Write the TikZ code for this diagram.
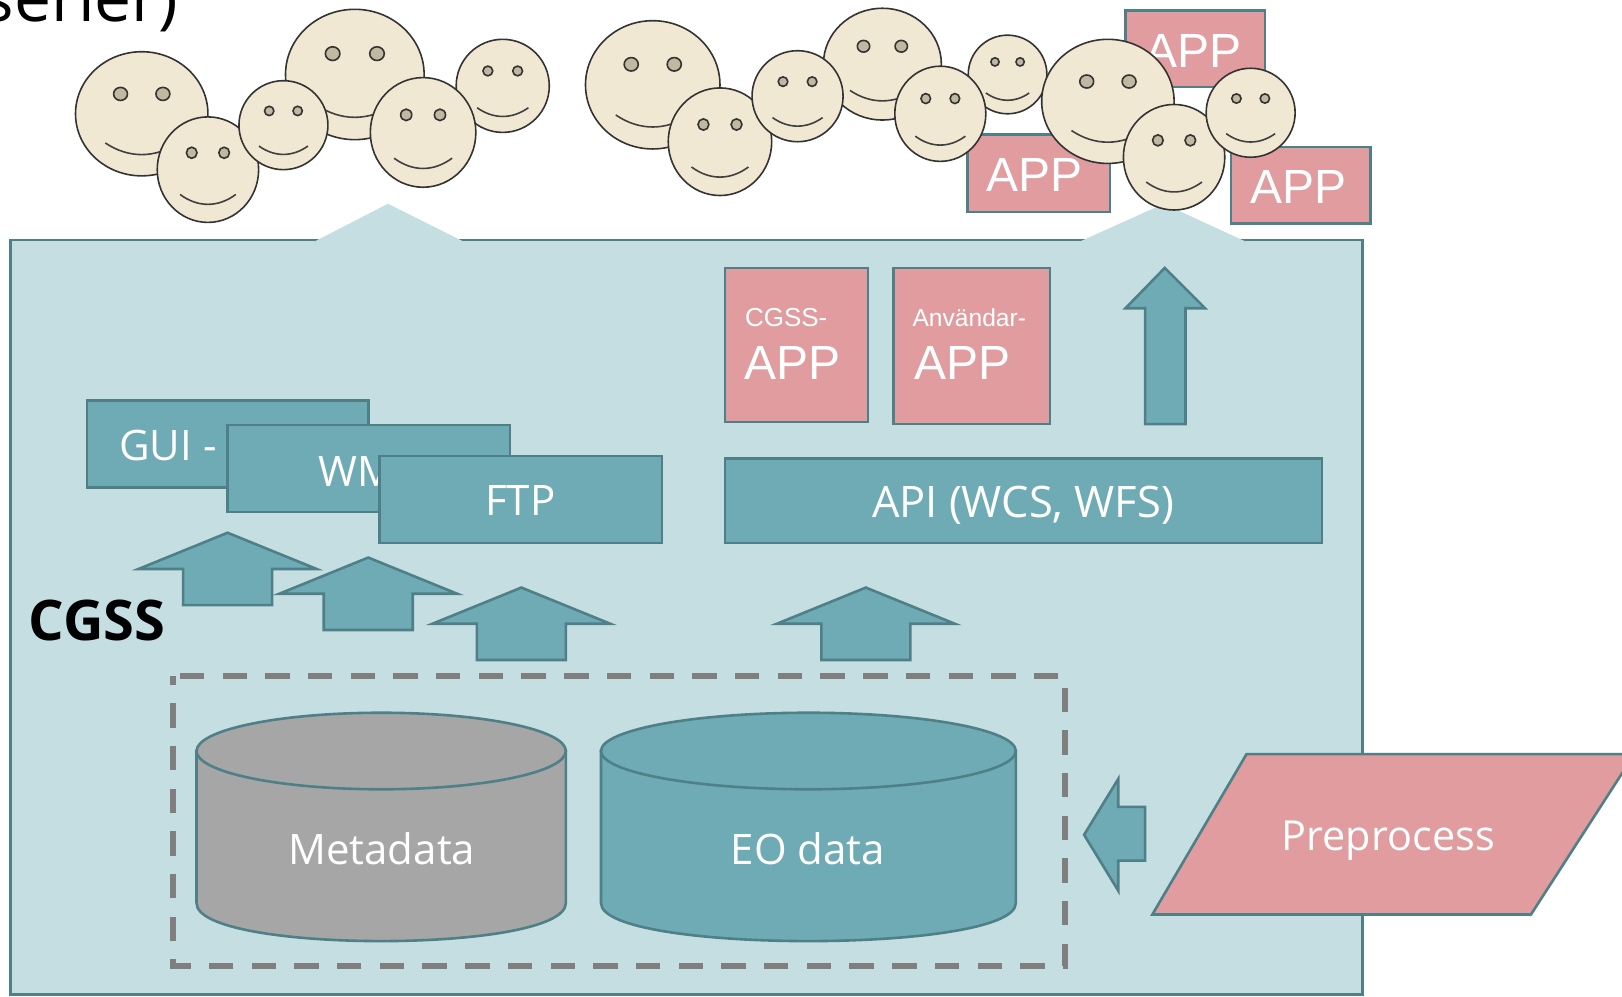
\documentclass[tikz,border=0pt]{standalone}
\usepackage{fontspec}
\setmainfont{Open Sans}
\newfontfamily\arialfont{Liberation Sans}
\definecolor{bgblue}{HTML}{C5DEE2}
\definecolor{tealfill}{HTML}{6FABB4}
\definecolor{tealline}{HTML}{4F7F87}
\definecolor{pinkfill}{HTML}{E09C9E}
\definecolor{facefill}{HTML}{F0E8D2}
\definecolor{eyefill}{HTML}{C0B8A0}
\definecolor{dashgray}{HTML}{7F7F7F}
\definecolor{cylgray}{HTML}{A6A6A6}
\begin{document}
\begin{tikzpicture}[x=.5172pt, y=-.5172pt,
        tealshape/.style={draw=tealline, fill=tealfill, line width=1.3pt},
        pinkshape/.style={draw=tealline, fill=pinkfill, line width=1.3pt},
        face/.style={draw=black!80, fill=facefill, line width=.8pt},
        boxtext/.style={text=white, font=\fontsize{21}{25}\selectfont, inner sep=0pt},
        apptext/.style={text=white, font=\arialfont\fontsize{24}{29}\selectfont, inner sep=0pt},
        smalltext/.style={text=white, font=\arialfont\fontsize{13}{16}\selectfont, inner sep=0pt}]
    \useasboundingbox (0,0) rectangle (1568,963);
    \clip (0,0) rectangle (1568,963);
    \node[anchor=base west, inner sep=0pt, font=\fontsize{33}{40}\selectfont] (title) at (-17,21) {serier)};
    % cgss background
    \draw[draw=tealline, fill=bgblue, line width=1.3pt] (10,232) rectangle (1317,961.5);
    \fill[bgblue] (305,233) -- (375,197) -- (447,233) -- cycle;
    \fill[bgblue] (1045,233) -- (1125,197) -- (1203,233) -- cycle;
    % apps behind the users
    \draw[pinkshape] (1088,10) rectangle (1223,84);
    \node[apptext] (apptop) at (1154,49) {APP};
    \draw[pinkshape] (935,130) rectangle (1073,205);
    \node[apptext] (appleft) at (1000,169) {APP};
    \draw[pinkshape] (1190,142) rectangle (1325,216);
    \node[apptext] (appright) at (1255,181) {APP};
    % users
    \foreach \cx/\cy/\rx/\ry in {137/110/64/60, 201/164/49/51, 343/72/67/63, 486/83/45/45,
            274/121/43/43, 409/128/51/53, 631/82/65/62, 696/137/50/52, 853/62/57/54,
            771/93/44/44, 974/72/38/38, 909/110/44/46, 1071/98/64/60, 1135/152/49/51, 1209/109/43/43} {
        \begin{scope}[shift={(\cx,\cy)}, xscale=\rx, yscale=\ry]
            \draw[face] (0,0) circle (1);
            \draw[face, fill=eyefill] (-.32,-.32) circle (.105);
            \draw[face, fill=eyefill] (.32,-.32) circle (.105);
            \draw[draw=black!75, line width=.8pt] (-.55,.47) .. controls (-.2,.72) and (.2,.72) .. (.55,.47);
        \end{scope}
    }
    % apps in cgss
    \draw[pinkshape] (701,259) rectangle (839,408);
    \node[smalltext] (cgsslabel) at (760,307) {CGSS-};
    \node[apptext] (cgssapp) at (766,351) {APP};
    \draw[pinkshape] (864,259) rectangle (1015,410);
    \node[smalltext, font=\arialfont\fontsize{12.3}{15}\selectfont] (userlabel) at (937,307) {Användar-};
    \node[apptext] (userapp) at (930,351) {APP};
    % services
    \draw[tealshape] (84,387) rectangle (356,471);
    \node[boxtext, anchor=west] (gui) at (115,431) {GUI -};
    \draw[tealshape] (220,411) rectangle (493,495);
    \node[boxtext] (wms) at (356,456) {WMS};
    \draw[tealshape] (367,441) rectangle (640,525);
    \node[boxtext] (ftp) at (503,484) {FTP};
    \draw[tealshape] (701,443) rectangle (1278,525);
    \node[boxtext, font=\fontsize{21.7}{26}\selectfont] (api) at (989,488) {API (WCS, WFS)};
    % arrows
    \foreach \ax/\ay in {220/515, 356/539, 504/568, 837/568} {
        \draw[tealshape] (\ax,\ay) -- ++(86,35) -- ++(-43,0) -- ++(0,35) -- ++(-86,0) -- ++(0,-35) -- ++(-43,0) -- cycle;
    }
    \draw[tealshape] (1126,259) -- (1165,298) -- (1146,298) -- (1146,410) -- (1107,410) -- (1107,298) -- (1088,298) -- cycle;
    \draw[tealshape] (1048,807) -- (1081,753) -- (1081,780) -- (1107,780) -- (1107,832) -- (1081,832) -- (1081,861) -- cycle;
    \node[inner sep=0pt, font=\bfseries\fontsize{28}{33}\selectfont] (cgss) at (94,600) {CGSS};
    % storage
    \foreach \lft/\rgt/\cfill in {190/547/cylgray, 581/982/tealfill} {
        \draw[draw=tealline, fill=\cfill, line width=1.3pt] (\lft,726) -- (\lft,873)
            .. controls (\lft,922) and (\rgt,922) .. (\rgt,873) -- (\rgt,726) -- cycle;
        \draw[draw=tealline, fill=\cfill, line width=1.3pt] ({(\lft+\rgt)/2},726) ellipse ({(\rgt-\lft)/2} and 37);
    }
    \node[boxtext] (metadata) at (369,820) {Metadata};
    \node[boxtext] (eodata) at (781,820) {EO data};
    \draw[dashgray, line width=3pt, dash pattern=on 12.2pt off 9.15pt, dash phase=17.9pt]
        (167.2,653.5) -- (1029.6,653.5) -- (1029.6,933.9) -- (167.2,933.9) -- cycle;
    % preprocess
    \draw[pinkshape] (1205,729) -- (1580,729) -- (1480,884) -- (1114,884) -- cycle;
    \node[boxtext, font=\fontsize{20.7}{25}\selectfont] (preprocess) at (1342,813) {Preprocess};
\end{tikzpicture}
\end{document}
